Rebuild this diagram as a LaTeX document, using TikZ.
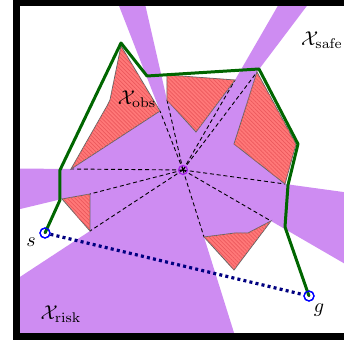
\documentclass[tikz,border=0pt]{standalone}
\usepackage{amsmath}
\usetikzlibrary{calc,patterns.meta}

\definecolor{visfill}{RGB}{206,140,242}
\definecolor{obsfill}{RGB}{255,120,120}
\definecolor{obshatch}{RGB}{236,88,92}
\definecolor{routegreen}{RGB}{0,102,0}
\definecolor{viewviolet}{RGB}{165,30,235}

\begin{document}
\begin{tikzpicture}[
  x=0.5pt, y=-0.5pt,
  font=\normalsize,
  visible/.style={fill=visfill},
  obstacle/.style={draw=black!60, line width=0.4pt, fill=obsfill,
                   postaction={pattern={Lines[angle=-45, distance=1.4pt, line width=0.35pt]},
                               pattern color=obshatch}},
  ray/.style={draw=black, line width=0.45pt, dash pattern=on 2pt off 1.4pt},
  route/.style={draw=routegreen, line width=1.5pt, line join=round},
  straight/.style={draw=blue!50!black, line width=1.6pt, dash pattern=on 1.5pt off 1.6pt},
  endpt/.style={circle, draw=blue, line width=0.6pt, inner sep=0pt, minimum size=5pt},
  viewpt/.style={circle, draw=viewviolet, line width=0.6pt, inner sep=0pt, minimum size=4.5pt},
  dot/.style={circle, fill=black, inner sep=0pt, minimum size=1.2pt},
  lbl/.style={inner sep=1pt},
]

\path[use as bounding box, clip] (0,0) rectangle (344,341);

\coordinate (c) at (183,170);

\coordinate (o1a) at (121,46);  \coordinate (o1b) at (110,100); \coordinate (o1c) at (107,106);
\coordinate (o1d) at (71,169);  \coordinate (o1e) at (160,111);
\coordinate (o2a) at (167,75);  \coordinate (o2b) at (235,80);  \coordinate (o2c) at (196,132);
\coordinate (o2d) at (167,100);
\coordinate (o3a) at (257,72);  \coordinate (o3b) at (296,144); \coordinate (o3c) at (285,184);
\coordinate (o3d) at (234,144);
\coordinate (o4a) at (62,199);  \coordinate (o4b) at (90,194);  \coordinate (o4c) at (90,231);
\coordinate (o5a) at (204,237); \coordinate (o5b) at (235,233); \coordinate (o5c) at (248,233);
\coordinate (o5d) at (271,221); \coordinate (o5e) at (234,270);

\begin{scope}
  \clip (17,3) rectangle (420,337);
  \fill[visible] (o1e) -- ($(c)!5!(o1e)$) -- ($(c)!5!(o2d)$) -- (o2d) -- (o2c) -- (o2b)
    -- ($(c)!5!(o2b)$) -- ($(c)!5!(o3a)$) -- (o3a) -- (o3d) -- (o3c)
    -- ($(c)!5!(o3c)$) -- ($(c)!5!(o5d)$) -- (o5d) -- (o5c) -- (o5b) -- (o5a)
    -- ($(c)!5!(o5a)$) -- (-50,505) -- ($(c)!5!(o4c)$) -- (o4c) -- (o4b) -- (o4a)
    -- ($(c)!5!(o4a)$) -- ($(c)!5!(o1d)$) -- (o1d) -- cycle;
\end{scope}

\draw[ray] (c) -- (o1d);
\draw[ray] (c) -- (o1e);
\draw[ray] (c) -- (o2d);
\draw[ray] (c) -- (o2b);
\draw[ray] (c) -- (o3a);
\draw[ray] (c) -- (o3c);
\draw[ray] (c) -- (o5d);
\draw[ray] (c) -- (o5a);
\draw[ray] (c) -- (o4b);
\draw[ray] (c) -- (o4c);

\path[obstacle] (o1a) -- (o1b) -- (o1c) -- (o1d) -- (o1e) -- cycle;
\path[obstacle] (o2a) -- (o2b) -- (o2c) -- (o2d) -- cycle;
\path[obstacle] (o3a) -- (o3b) -- (o3c) -- (o3d) -- cycle;
\path[obstacle] (o4a) -- (o4b) -- (o4c) -- cycle;
\path[obstacle] (o5a) -- (o5b) -- (o5c) -- (o5d) -- (o5e) -- cycle;

\node[endpt] (s) at (45,233) {};
\node[endpt] (g) at (309,296) {};
\node[viewpt] (ctr) at (c) {};
\node[dot] at (s) {};
\node[dot] at (g) {};
\node[dot] at (ctr) {};

\coordinate (w1) at (60,200);
\coordinate (w2) at (60,170);
\coordinate (w3) at (121,43);
\coordinate (w4) at (147,76);
\coordinate (w5) at (259,69);
\coordinate (w6) at (298,144);
\coordinate (w7) at (288,185);
\coordinate (w8) at (285,227);

\draw[route] (s.center) -- (w1) -- (w2) -- (w3) -- (w4) -- (w5) -- (w6) -- (w7) -- (w8) -- (g.center);
\draw[straight] (s) -- (g);
\node[endpt] at (s) {};
\node[endpt] at (g) {};

\node[lbl] (slbl) at (31,242) {$s$};
\node[lbl] (glbl) at (319,310) {$g$};
\node[lbl] (xobs) at (137,99) {$\mathcal{X}_{\mathrm{obs}}$};
\node[lbl] (xsafe) at (322,40) {$\mathcal{X}_{\mathrm{safe}}$};
\node[lbl] (xrisk) at (61,314) {$\mathcal{X}_{\mathrm{risk}}$};

\draw[line width=3.5pt] (17,3) rectangle (420,337);

\end{tikzpicture}
\end{document}
